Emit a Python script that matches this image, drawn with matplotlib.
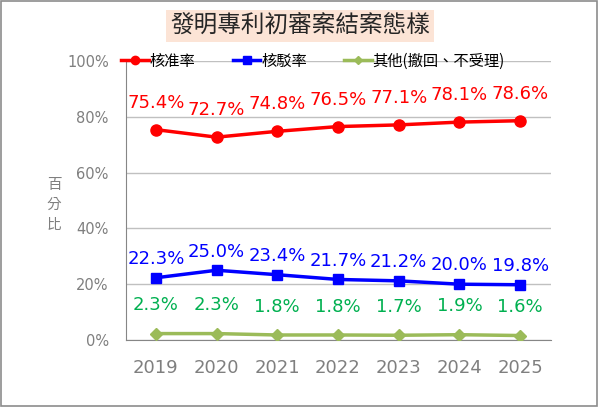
import matplotlib
matplotlib.use("Agg")
import matplotlib.pyplot as plt
from matplotlib.patches import Rectangle

plt.rcParams['font.family'] = ['Noto Sans CJK TC', 'DejaVu Sans']

years = ['2019', '2020', '2021', '2022', '2023', '2024', '2025']
approved = [75.4, 72.7, 74.8, 76.5, 77.1, 78.1, 78.6]
rejected = [22.3, 25.0, 23.4, 21.7, 21.2, 20.0, 19.8]
others = [2.3, 2.3, 1.8, 1.8, 1.7, 1.9, 1.6]

series_names = ['核准率', '核駁率', '其他(撤回、不受理)']

fig = plt.figure(figsize=(6.01, 4.09), dpi=100)
fig.patches.append(Rectangle((0.001, 0.008), 0.992, 0.99, transform=fig.transFigure,
                             fill=False, edgecolor='#8c8c8c', linewidth=1.2))

ax = fig.add_axes([125.5 / 601, (409 - 340) / 409, 425 / 601, 279 / 409])
x = range(len(years))

ax.plot(x, [v / 100 for v in approved], color='#ff0000', lw=2.5, marker='o', ms=8,
        label=series_names[0], zorder=3)
ax.plot(x, [v / 100 for v in rejected], color='#0000ff', lw=2.5, marker='s', ms=7,
        label=series_names[1], zorder=3)
ax.plot(x, [v / 100 for v in others], color='#9bbb59', lw=2.5, marker='D', ms=6,
        label=series_names[2], zorder=3)

for xi, v in zip(x, approved):
    ax.annotate(f'{v:.1f}%', (xi, v / 100), xytext=(0, 13), textcoords='offset points',
                ha='center', va='bottom', color='#ff0000', fontsize=13, family='DejaVu Sans')
for xi, v in zip(x, rejected):
    ax.annotate(f'{v:.1f}%', (xi, v / 100), xytext=(0, 7), textcoords='offset points',
                ha='center', va='bottom', color='#0000ff', fontsize=13, family='DejaVu Sans')
for xi, v in zip(x, others):
    ax.annotate(f'{v:.1f}%', (xi, v / 100), xytext=(0, 14), textcoords='offset points',
                ha='center', va='bottom', color='#00b050', fontsize=13, family='DejaVu Sans')

ax.set_xlim(-0.5, len(years) - 0.5)
ax.set_ylim(0, 1)
ax.set_yticks([0, 0.2, 0.4, 0.6, 0.8, 1.0])
ax.set_yticklabels(['0%', '20%', '40%', '60%', '80%', '100%'])
ax.set_xticks(list(x))
ax.set_xticklabels(years)
ax.tick_params(axis='y', length=0, labelsize=10.5, labelcolor='#7f7f7f', pad=12)
ax.tick_params(axis='x', length=0, labelsize=13, labelcolor='#7f7f7f', pad=14)
for lab in ax.get_xticklabels() + ax.get_yticklabels():
    lab.set_family('DejaVu Sans')
ax.grid(axis='y', color='#c0c0c0', lw=1)
ax.set_axisbelow(True)
for s in ['top', 'right']:
    ax.spines[s].set_visible(False)
ax.spines['left'].set_color('#868686')
ax.spines['bottom'].set_color('#868686')

fig.text(54 / 601, 1 - 205 / 409, '百\n分\n比', ha='center', va='center', fontsize=10.5,
         color='#7f7f7f', linespacing=1.55)

fig.text(300 / 601, 1 - 26 / 409, '發明專利初審案結案態樣', ha='center', va='center',
         fontsize=17, color='#262626',
         bbox=dict(boxstyle='square,pad=0.18', facecolor='#fce4d6', edgecolor='none'))

leg = ax.legend(loc='center left', bbox_to_anchor=(-0.024, 1.0), ncol=3, frameon=False,
                fontsize=11, handlelength=1.8, handletextpad=0.05, columnspacing=2.45,
                borderaxespad=0, markerscale=0.75)

fig.savefig('out.png', dpi=100)
